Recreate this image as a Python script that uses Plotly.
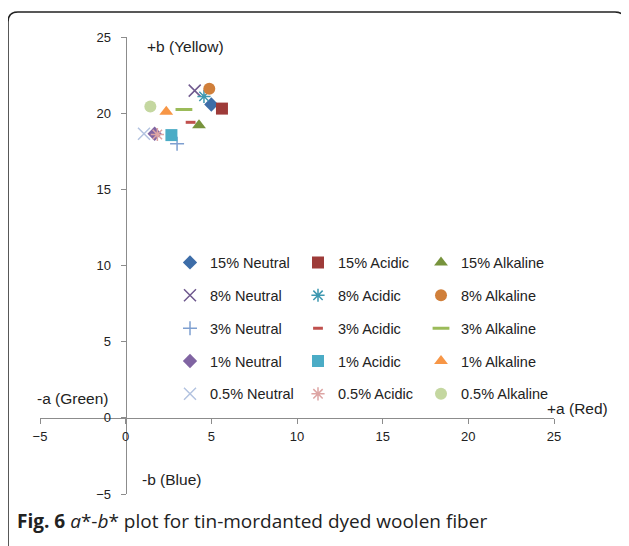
import plotly.graph_objs as go

# a*-b* values
series_names = [
    '15% Neutral', '15% Acidic', '15% Alkaline',
    '8% Neutral', '8% Acidic', '8% Alkaline',
    '3% Neutral', '3% Acidic', '3% Alkaline',
    '1% Neutral', '1% Acidic', '1% Alkaline',
    '0.5% Neutral', '0.5% Acidic', '0.5% Alkaline',
]
a_values = [5.0, 5.62, 4.28, 4.03, 4.57, 4.88, 3.0, 3.79, 3.4, 1.69, 2.67, 2.37, 1.07, 1.85, 1.44]
b_values = [20.57, 20.3, 19.2, 21.48, 21.1, 21.6, 18.0, 19.4, 20.24, 18.65, 18.56, 20.1, 18.65, 18.6, 20.44]

x_ticks = [-5, 0, 5, 10, 15, 20, 25]
y_ticks = [-5, 0, 5, 10, 15, 20, 25]

colors = [
    '#3d6da8', '#9e3b39', '#77933c',
    '#705a8f', '#3e98b0', '#d07f3a',
    '#7e9fd0', '#c0504d', '#9bbb59',
    '#8064a2', '#4bacc6', '#f79646',
    '#b3c3e0', '#dda5a4', '#c4d7a0',
]
symbols = [
    'diamond', 'square', 'triangle-up',
    'x-thin-open', 'asterisk-open', 'circle',
    'cross-thin-open', 'line-ew-open', 'line-ew-open',
    'diamond', 'square', 'triangle-up',
    'x-thin-open', 'asterisk-open', 'circle',
]
sizes = [11, 12, 12, 12, 11, 12, 10, 7, 12, 11, 12, 12, 12, 11, 12]

W, H = 629, 546
PAGE_PAD = 8  # default body margin of the html page


def px(x):
    return (x - PAGE_PAD) / W


def py(y):
    return 1 - (y - PAGE_PAD) / H


FONT = 'Arial'
x_dom = [px(40), px(554)]
y_dom = [py(494), py(37)]
x_rng = [-5, 25]
y_rng = [-5, 25]

fig = go.Figure()
for i, name in enumerate(series_names):
    open_sym = symbols[i].endswith('open')
    fig.add_trace(go.Scatter(
        x=[a_values[i]], y=[b_values[i]], name=name, mode='markers',
        legend=['legend', 'legend2', 'legend3'][i % 3],
        legendgroup=name,
        marker=dict(
            symbol=symbols[i], size=sizes[i], color=colors[i],
            line=dict(color=colors[i], width=3 if 'line' in symbols[i] else (1.5 if open_sym else 0)),
        ),
    ))

# axes cross at the origin
x_pos = y_dom[0] + (y_dom[1] - y_dom[0]) * (0 - y_rng[0]) / (y_rng[1] - y_rng[0])
y_pos = x_dom[0] + (x_dom[1] - x_dom[0]) * (0 - x_rng[0]) / (x_rng[1] - x_rng[0])

legend_common = dict(
    orientation='v', bgcolor='rgba(0,0,0,0)', tracegroupgap=11,
    font=dict(family=FONT, size=14.5, color='#222'),
    xanchor='left', yanchor='top', y=py(246.5),
)

fig.update_layout(
    width=W, height=H,
    margin=dict(l=0, r=0, t=0, b=0, autoexpand=False),
    paper_bgcolor='white', plot_bgcolor='white',
    font=dict(family=FONT, size=13, color='#222'),
    xaxis=dict(
        domain=x_dom, range=x_rng, tickvals=x_ticks, anchor='free', position=x_pos,
        showgrid=False, zeroline=False, showline=True, linecolor='#8c8c8c', linewidth=1,
        ticks='outside', ticklen=5, tickcolor='#8c8c8c', ticklabelstandoff=2, automargin=False,
    ),
    yaxis=dict(
        domain=y_dom, range=y_rng, tickvals=y_ticks, anchor='free', position=y_pos,
        showgrid=False, zeroline=False, showline=True, linecolor='#8c8c8c', linewidth=1,
        ticks='outside', ticklen=5, tickcolor='#8c8c8c', ticklabelstandoff=7, automargin=False,
    ),
    legend=dict(legend_common, x=px(170)),
    legend2=dict(legend_common, x=px(298)),
    legend3=dict(legend_common, x=px(421)),
    shapes=[dict(
        type='path', xref='paper', yref='paper',
        path=(f'M {px(8)},{py(570)} L {px(8)},{py(22)} Q {px(8)},{py(12)} {px(18)},{py(12)} '
              f'L {px(615)},{py(12)} Q {px(625)},{py(12)} {px(625)},{py(22)} L {px(625)},{py(570)}'),
        line=dict(color='#222', width=1.5),
    )],
)

axis_labels = [
    ('+b (Yellow)', 145, 47),
    ('-b (Blue)', 140, 479),
    ('-a (Green)', 35, 398),
    ('+a (Red)', 545, 408),
]
for text, x, y in axis_labels:
    fig.add_annotation(
        text=text, x=px(x), y=py(y), xref='paper', yref='paper',
        xanchor='left', yanchor='middle', showarrow=False,
        font=dict(family=FONT, size=15.5, color='#222'),
    )

fig.add_annotation(
    text='<b>Fig. 6</b> <i>a</i>*-<i>b</i>* plot for tin-mordanted dyed woolen fiber',
    x=px(15), y=py(521), xref='paper', yref='paper',
    xanchor='left', yanchor='middle', showarrow=False,
    font=dict(family='Open Sans, sans-serif', size=19, color='#222'),
)

fig.write_html('out.html')
